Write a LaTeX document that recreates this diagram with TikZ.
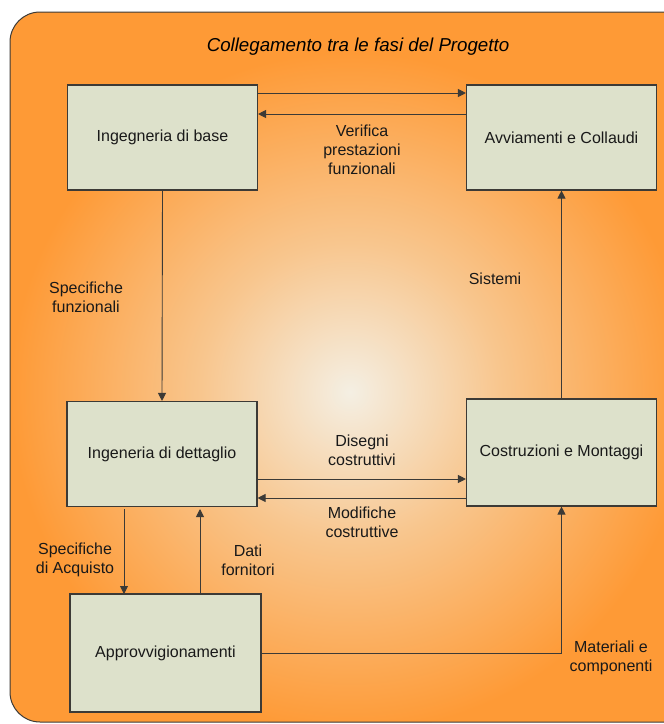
\documentclass[tikz,border=0pt]{standalone}
\usepackage{fontspec}
\setmainfont{Liberation Sans}
\usetikzlibrary{arrows.meta}
\definecolor{boxfill}{HTML}{DDE1CB}
\definecolor{orng}{HTML}{FE9A36}
\definecolor{lite}{HTML}{F4EFE3}
\definecolor{mid}{HTML}{F8C68E}
\definecolor{lnc}{HTML}{3C3A36}
\pgfdeclareradialshading{bgrad}{\pgfpoint{0bp}{0bp}}{%
  color(0bp)=(lite); color(11bp)=(mid); color(25bp)=(orng); color(50bp)=(orng)}
\tikzset{
  stepbox/.style={draw=lnc, line width=1.1pt, fill=boxfill, minimum width=190pt, minimum height=105pt, inner sep=0pt, font=\fontsize{16}{19}\selectfont, text=black!90},
  lbl/.style={align=center, font=\fontsize{16}{19}\selectfont, text=black!90, inner sep=0pt},
  conn/.style={draw=lnc, line width=0.9pt},
  arr/.style={conn, -{Triangle[length=8pt,width=8pt]}}
}
\begin{document}
\begin{tikzpicture}[x=1pt,y=-1pt]
\useasboundingbox (0,0) rectangle (664,724);
\begin{scope}
\clip[rounded corners=30pt] (10,12) rectangle (700,722);
\fill[orng] (0,0) rectangle (700,724);
\shade[shading=bgrad] (350,392) circle (340);
\end{scope}
\draw[lnc, line width=1pt, rounded corners=30pt] (700,722) -- (10,722) -- (10,12) -- (700,12);

\node[font=\fontsize{18.7}{20}\selectfont\itshape, text=black, inner sep=0pt] (title) at (358,47) {Collegamento tra le fasi del Progetto};

\node[stepbox] (base) at (162.5,137.5) {Ingegneria di base};
\node[stepbox] (avv) at (561.5,137.5) {Avviamenti e Collaudi};
\node[stepbox] (dett) at (162,454) {Ingeneria di dettaglio};
\node[stepbox, minimum height=107pt] (cost) at (561.5,452.5) {Costruzioni e Montaggi};
\node[stepbox, minimum width=191pt, minimum height=118pt] (appr) at (165.5,653) {Approvvigionamenti};

% top pair
\draw[arr] (base.east |- 0,93) -- (avv.west |- 0,93);
\draw[arr] (avv.west |- 0,114) -- (base.east |- 0,114);
\node[lbl] (l1) at (362,150) {Verifica\\prestazioni\\funzionali};

% base -> dettaglio
\draw[arr] (base.south) -- (dett.north);
\node[lbl] (l2) at (86,297) {Specifiche\\funzionali};

% costruzioni -> avviamenti
\draw[arr] (cost.north) -- (avv.south);
\node[lbl] (l3) at (495,279) {Sistemi};

% middle pair
\draw[arr] (dett.east |- 0,479) -- (cost.west |- 0,479);
\draw[arr] (cost.west |- 0,498) -- (dett.east |- 0,498);
\node[lbl] (l4) at (362,450) {Disegni\\costruttivi};
\node[lbl] (l5) at (362,522) {Modifiche\\costruttive};

% dettaglio <-> approvvigionamenti
\draw[arr] (124,509) -- (124,594);
\draw[arr] (200,594) -- (200,509);
\node[lbl] (l6) at (75,560) {Specifiche\\di Acquisto};
\node[lbl] (l7) at (248,560) {Dati\\fornitori};

% approvvigionamenti -> costruzioni
\coordinate (corner) at (cost.south |- appr.east);
\draw[arr] (appr.east) -- (corner) -- (cost.south);
\node[lbl] (l8) at (611,658) {Materiali e\\componenti};
\end{tikzpicture}
\end{document}
